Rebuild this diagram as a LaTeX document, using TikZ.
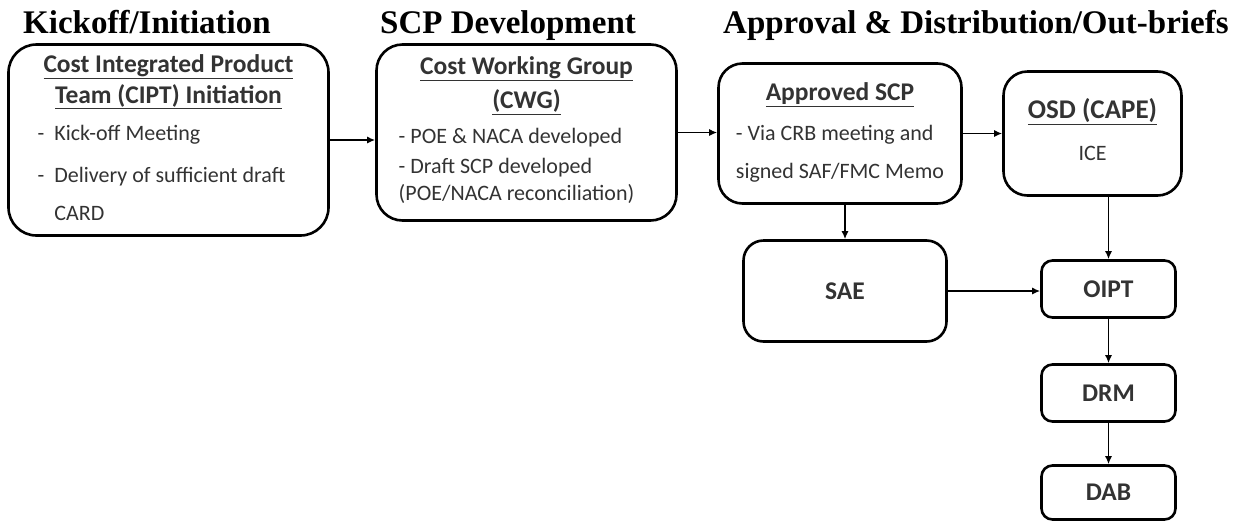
\documentclass[tikz,border=0pt]{standalone}
\usepackage{fontspec}
\setmainfont{Liberation Serif}
\newfontfamily\calibri{Carlito}
\usetikzlibrary{arrows.meta}

\tikzset{
  box/.style={draw, line width=2.6pt, rounded corners=#1, inner sep=0pt,
    align=center, text=black!80, font=\calibri\fontsize{22}{30}\selectfont},
  box/.default=22pt,
  flow/.style={line width=1.5pt, -{Latex[length=8pt,width=7pt]}},
  phase/.style={anchor=base west, inner sep=0pt,
    font=\fontsize{33}{33}\selectfont\bfseries}
}
\newcommand{\boxhead}[1]{{\fontsize{25.5}{30}\selectfont\bfseries\underline{#1}}}

\begin{document}
\begin{tikzpicture}[x=1pt,y=-1pt]
  \useasboundingbox (0,0) rectangle (1244,523);

  % phase headings
  \node[phase] (kick) at (23,33) {Kickoff/Initiation};
  \node[phase] (dev)  at (380,33) {SCP Development};
  \node[phase] (dist) at (723,33) {Approval \& Distribution/Out-briefs};

  % top row
  \node[box=28pt, minimum width=320pt, minimum height=191pt] (cipt) at (168.5,140) {%
    \fontsize{22}{31}\selectfont
    \begin{tabular}{@{}l@{\hspace{10pt}}l@{}}
      \multicolumn{2}{@{}c@{}}{\boxhead{Cost Integrated Product}}\\
      \multicolumn{2}{@{}c@{}}{\boxhead{Team (CIPT) Initiation}}\\[6pt]
      - & Kick-off Meeting\\[11pt]
      - & Delivery of sufficient draft\hspace*{14pt}\\[7pt]
        & CARD
    \end{tabular}};
  \node[box=26pt, minimum width=300pt, minimum height=176pt] (cwg) at (526.5,132.5) {%
    \fontsize{22}{27}\selectfont
    \begin{tabular}{@{}l@{}}
      \multicolumn{1}{@{}c@{}}{\boxhead{Cost Working Group}}\\[7pt]
      \multicolumn{1}{@{}c@{}}{\boxhead{(CWG)}}\\[8pt]
      - POE \& NACA developed\\[3pt]
      - Draft SCP developed\\
      (POE/NACA reconciliation)\hspace*{20pt}
    \end{tabular}};
  \node[box=24pt, minimum width=243pt, minimum height=140pt] (appr) at (840,133.5) {%
    \fontsize{22}{30}\selectfont
    \begin{tabular}{@{}l@{}}
      \multicolumn{1}{@{}c@{}}{\boxhead{Approved SCP}}\\[10pt]
      - Via CRB meeting and\\[8pt]
      signed SAF/FMC Memo
    \end{tabular}};
  \node[box=24pt, minimum width=178pt, minimum height=124pt] (osd) at (1092.5,133.5) {%
    \fontsize{22}{30}\selectfont
    \begin{tabular}{@{}c@{}}
      {\fontsize{27}{30}\selectfont\bfseries\underline{OSD (CAPE)}}\\[12pt]
      ICE
    \end{tabular}};

  % lower boxes
  \node[box=20pt, minimum width=203pt, minimum height=101pt,
    font=\calibri\fontsize{25.5}{30}\selectfont\bfseries] (sae) at (845,291) {SAE};
  \node[box=11pt, minimum width=134pt, minimum height=57pt,
    font=\calibri\fontsize{25.5}{30}\selectfont\bfseries] (oipt) at (1108.5,289) {OIPT};
  \node[box=11pt, minimum width=134pt, minimum height=57pt,
    font=\calibri\fontsize{25.5}{30}\selectfont\bfseries] (drm) at (1108.5,393) {DRM};
  \node[box=11pt, minimum width=134pt, minimum height=54pt,
    font=\calibri\fontsize{25.5}{30}\selectfont\bfseries] (dab) at (1108.5,492.5) {DAB};

  % connectors
  \draw[flow] (cipt.east) -- (cipt.east -| cwg.west);
  \draw[flow] (cwg.east) -- (cwg.east -| appr.west);
  \draw[flow] (appr.east) -- (appr.east -| osd.west);
  \draw[flow] (sae.north |- appr.south) -- (sae.north);
  \draw[flow] (oipt.north |- osd.south) -- (oipt.north);
  \draw[flow] (sae.east) -- (sae.east -| oipt.west);
  \foreach \a/\b in {oipt/drm, drm/dab}
    \draw[flow] (\a) -- (\b);
\end{tikzpicture}
\end{document}
